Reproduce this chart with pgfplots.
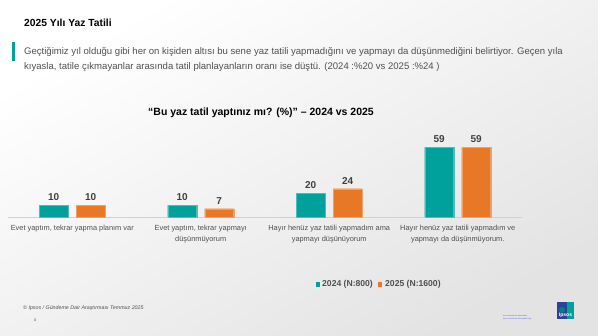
\documentclass[border=0pt]{standalone}
\usepackage{pgfplots}
\pgfplotsset{compat=1.18}
\usepackage{fontspec}
\setmainfont{Liberation Sans}
\definecolor{teal24}{HTML}{00A09C}
\definecolor{orange25}{HTML}{E87826}
\definecolor{txtgray}{HTML}{505050}
\definecolor{valgray}{HTML}{404040}
\definecolor{ipsosblue}{HTML}{2E3F9E}
\definecolor{ipsosteal}{HTML}{00A39B}
\pgfplotstableread{
x v
0 10
1 10
2 20
3 59
}\tblA
\pgfplotstableread{
x v
0 10
1 7
2 24
3 59
}\tblB
\begin{document}
\begin{tikzpicture}[x=1pt,y=1pt]
\shade[shading=axis,top color=white,bottom color=black!11,shading angle=30] (0,0) rectangle (598,336);
\path (0,0) rectangle (598,336);
% page title
\node[anchor=west,font=\bfseries\fontsize{10.3}{12}\selectfont,inner sep=0pt] at (24,313) {2025 Yılı Yaz Tatili};
% teal marker
\fill[ipsosteal] (11.5,275) rectangle (14.5,294);
\node[anchor=north west,align=left,text=txtgray,font=\fontsize{9.55}{15}\selectfont,inner sep=0pt] at (24,288.5)
 {Geçtiğimiz yıl olduğu gibi her on kişiden altısı bu sene yaz tatili yapmadığını ve yapmayı da düşünmediğini belirtiyor. Geçen yıla\\
 kıyasla, tatile çıkmayanlar arasında tatil planlayanların oranı  ise düştü. (2024 :\%20 vs 2025 :\%24 )};
% chart title
\node[font=\bfseries\fontsize{10.5}{12}\selectfont] at (261,223) {“Bu yaz tatil yaptınız mı? (\%)” – 2024 vs 2025};
\begin{axis}[
  at={(8pt,119pt)}, anchor=south west,
  scale only axis, width=514pt, height=76.6pt,
  xmin=-0.5, xmax=3.5, ymin=0, ymax=65,
  ybar, bar width=29pt,
  hide y axis,
  axis x line*=bottom,
  x axis line style={draw=black!18, line width=0.8pt},
  xtick={0,1,2,3}, major tick length=0pt,
  xticklabels={{Evet yaptım, tekrar yapma planım var},{Evet yaptım, tekrar yapmayı\\düşünmüyorum},{Hayır henüz  yaz tatili yapmadım ama\\yapmayı düşünüyorum},{Hayır henüz yaz tatili yapmadım ve\\yapmayı da düşünmüyorum.}},
  xticklabel style={align=center,text=txtgray,font=\fontsize{7.4}{11}\selectfont,inner sep=0pt,yshift=-8pt},
  /pgf/number format/assume math mode=true,
  nodes near coords,
  every node near coord/.append style={font=\bfseries\fontsize{10}{11}\selectfont,text=valgray,yshift=1pt},
  clip=false,
]
\addplot[fill=teal24,draw=teal24!70!white,line width=0.4pt,bar shift=-18.5pt] table[x=x,y=v] {\tblA};
\addplot[fill=orange25,draw=orange25!70!white,line width=0.4pt,bar shift=18.5pt] table[x=x,y=v] {\tblB};
\end{axis}
% legend
\fill[teal24] (315.7,49.3) rectangle (320,53.7);
\node[anchor=west,text=txtgray,font=\bfseries\fontsize{8.6}{10}\selectfont,inner sep=0pt] at (322,51.7) {2024 (N:800)};
\fill[orange25] (378,49.3) rectangle (382.3,53.7);
\node[anchor=west,text=txtgray,font=\bfseries\fontsize{8.6}{10}\selectfont,inner sep=0pt] at (385,51.7) {2025 (N:1600)};
% footer
\node[anchor=west,text=txtgray,font=\itshape\fontsize{5.3}{6}\selectfont,inner sep=0pt] at (23,28) {© Ipsos / Gündeme Dair Araştırması  Temmuz  2025};
\node[text=txtgray,font=\fontsize{4}{5}\selectfont,inner sep=0pt] at (35,16) {4};
% ipsos logo
\fill[ipsosblue] (557,17) rectangle (574,34);
\fill[ipsosteal] (567,17) rectangle (574,34);
\fill[ipsosteal!80!black] (562,26) circle (3);
\node[text=white,font=\bfseries\fontsize{5}{6}\selectfont,inner sep=0pt] at (565.5,21) {Ipsos};
\node[anchor=west,align=left,text=blue!70!white,font=\fontsize{1.8}{2.4}\selectfont,inner sep=0pt] at (503,18.5) {Ipsos Internal Use Information\\Ipsos Internal Use Information Only};
\end{tikzpicture}
\end{document}
